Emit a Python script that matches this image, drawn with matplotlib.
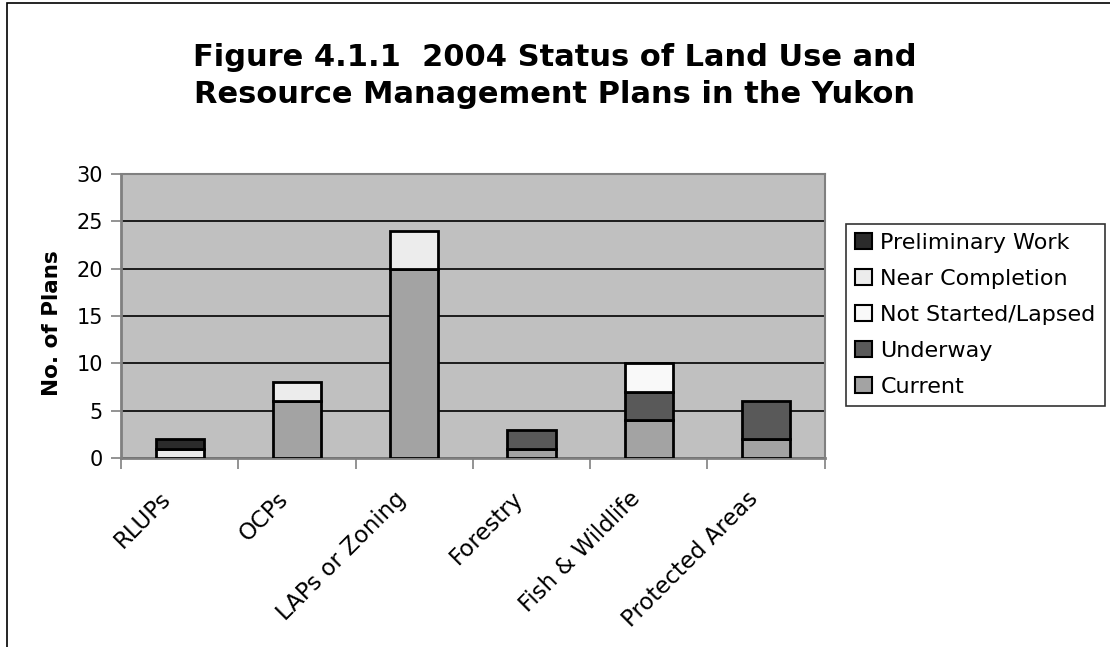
import matplotlib
matplotlib.use("Agg")
import matplotlib.pyplot as plt
from matplotlib.patches import Rectangle
from matplotlib.transforms import ScaledTranslation
import numpy as np

categories = ["RLUPs", "OCPs", "LAPs or Zoning", "Forestry", "Fish & Wildlife", "Protected Areas"]
current = [0, 6, 20, 1, 4, 2]
underway = [0, 0, 0, 2, 3, 4]
not_started = [0, 0, 0, 0, 3, 0]
near_completion = [1, 2, 4, 0, 0, 0]
preliminary = [1, 0, 0, 0, 0, 0]

series = [
    ("Current", current, "#a3a3a3"),
    ("Underway", underway, "#595959"),
    ("Not Started/Lapsed", not_started, "#f9f9f9"),
    ("Near Completion", near_completion, "#ececec"),
    ("Preliminary Work", preliminary, "#2b2b2b"),
]

plt.rcParams["font.family"] = "DejaVu Sans"

fig = plt.figure(figsize=(11.1, 6.47), dpi=100)
ax = fig.add_axes([0.109, 0.292, 0.634, 0.439])

# outer chart border
fig.patches.append(Rectangle((7 / 1110, -0.1), 1.2, 1.1 - 3 / 647, transform=fig.transFigure,
                             fill=False, edgecolor="black", linewidth=1.2))

x = np.arange(len(categories))
bottom = np.zeros(len(categories))
handles = []
for name, vals, col in series:
    vals = np.array(vals, dtype=float)
    mask = vals > 0
    bars = ax.bar(x[mask], vals[mask], width=0.41, bottom=bottom[mask], color=col,
                  edgecolor="black", linewidth=2, zorder=3, label=name)
    handles.append(bars)
    bottom += vals

ax.set_facecolor("#c0c0c0")
ax.set_xlim(-0.5, len(categories) - 0.5)
ax.set_ylim(0, 30)
ax.set_yticks(range(0, 31, 5))
ax.yaxis.grid(True, color="black", linewidth=1.2, zorder=1)
ax.set_axisbelow(True)
for s in ["top", "right"]:
    ax.spines[s].set_color("#808080")
    ax.spines[s].set_linewidth(1.5)
for s in ["left", "bottom"]:
    ax.spines[s].set_color("#808080")
    ax.spines[s].set_linewidth(2)

ax.set_xticks(np.arange(-0.5, len(categories), 1), minor=False)
ax.set_xticklabels([])
ax.set_xticks(x, minor=True)
ax.set_xticklabels(categories, minor=True, rotation=45, ha="right", rotation_mode="anchor",
                   fontsize=16.5)
ax.tick_params(axis="x", which="minor", length=0, pad=8)
ax.tick_params(axis="x", which="major", length=8, color="#808080", width=1.2, direction="out")
ax.tick_params(axis="y", length=7, color="#808080", width=1.2, labelsize=15, pad=6)

# nudge the slanted labels left/down like the original
shift = ScaledTranslation(-20 / 100, -18 / 100, fig.dpi_scale_trans)
for lab in ax.get_xticklabels(minor=True):
    lab.set_transform(lab.get_transform() + shift)

ax.set_ylabel("No. of Plans", fontsize=15.5, fontweight="bold", labelpad=8)
ax.yaxis.set_label_coords(52 / 1110, 0.5, transform=fig.transFigure)
ax.yaxis.label.set_va("center")

fig.text(0.5, 1 - 76 / 647, "Figure 4.1.1  2004 Status of Land Use and\nResource Management Plans in the Yukon",
         ha="center", va="center", fontsize=22, fontweight="bold", linespacing=1.35)

leg = ax.legend(handles[::-1], [s[0] for s in series][::-1], loc="upper left",
                bbox_to_anchor=(846 / 1110, 1 - 224 / 647), bbox_transform=fig.transFigure,
                frameon=True, fancybox=False, edgecolor="black", fontsize=16,
                handlelength=0.75, handleheight=0.75, handletextpad=0.4, labelspacing=0.72,
                borderpad=0.4, borderaxespad=0)
leg.get_frame().set_linewidth(1.2)
for h in leg.legend_handles:
    h.set_linewidth(1.5)

fig.savefig("out.png", dpi=100)
